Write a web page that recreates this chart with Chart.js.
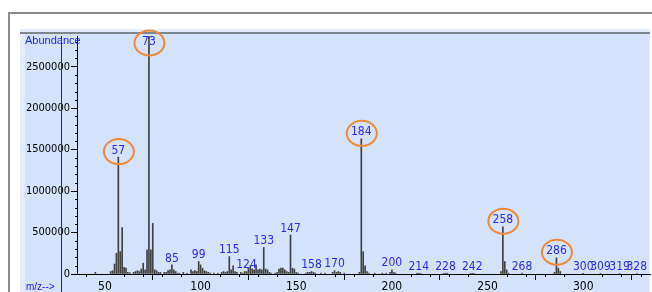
<!DOCTYPE html>
<html>
<head>
<meta charset="utf-8">
<script src="https://cdn.jsdelivr.net/npm/chart.js@4/dist/chart.umd.min.js"></script>
<style>
  html, body { margin: 0; padding: 0; background: #ffffff; }
  #wrap { width: 652px; height: 292px; }
</style>
</head>
<body>
<div id="wrap"><canvas id="myChart" width="652" height="292"></canvas></div>
<script>
// m/z values and abundances
let masas = [45, 53, 54, 55, 56, 57, 58, 59, 60, 61, 62, 63, 65, 66, 67, 68, 69, 70, 71, 72, 73, 74, 75, 76, 77, 78, 79,
  81, 82, 83, 84, 85, 86, 87, 88, 89, 91, 93, 95, 96, 97, 98, 99, 100, 101, 102, 103, 104, 105, 107, 109,
  111, 112, 113, 114, 115, 116, 117, 118, 119, 121, 122, 123, 124, 125, 126, 127, 128, 129, 130, 131, 132, 133, 134, 135, 136, 137, 139,
  140, 141, 142, 143, 144, 145, 146, 147, 148, 149, 150, 151, 155, 156, 157, 158, 159, 160, 163, 165, 169, 170, 171, 172, 173, 175,
  183, 184, 185, 186, 187, 188, 191, 195, 197, 199, 200, 201, 202, 213, 214, 215, 227, 228, 229, 241, 242, 243,
  257, 258, 259, 260, 261, 268, 285, 286, 287, 288, 300, 309, 319, 328];
let abundancia = [20000, 30000, 40000, 120000, 250000, 1410000, 270000, 560000, 80000, 70000, 20000, 15000, 20000, 30000, 40000, 30000, 60000, 130000, 50000, 290000, 2870000, 290000, 610000, 50000, 40000, 20000, 20000,
  20000, 20000, 40000, 50000, 110000, 50000, 30000, 10000, 10000, 20000, 10000, 50000, 30000, 40000, 30000, 150000, 110000, 70000, 40000, 30000, 20000, 10000, 10000, 10000,
  20000, 30000, 20000, 30000, 210000, 50000, 100000, 30000, 20000, 20000, 10000, 30000, 30000, 70000, 100000, 60000, 50000, 110000, 50000, 60000, 50000, 320000, 60000, 50000, 20000, 10000, 10000,
  20000, 60000, 70000, 70000, 50000, 30000, 20000, 470000, 70000, 60000, 20000, 10000, 10000, 20000, 20000, 30000, 20000, 10000, 10000, 10000, 20000, 40000, 20000, 30000, 20000, 10000,
  20000, 1630000, 270000, 100000, 30000, 10000, 10000, 10000, 10000, 20000, 50000, 20000, 10000, 10000, 10000, 5000, 5000, 10000, 10000, 5000, 10000, 5000,
  30000, 570000, 150000, 50000, 10000, 10000, 20000, 196000, 70000, 30000, 8000, 8000, 6000, 6000];

let etiquetas = [57, 73, 85, 99, 115, 124, 133, 147, 158, 170, 184, 200, 214, 228, 242, 258, 268, 286, 300, 309, 319, 328];
let circulos = [57, 73, 184, 258, 286];
let ticksX = [50, 100, 150, 200, 250, 300];
let ticksY = [0, 500000, 1000000, 1500000, 2000000, 2500000];

const azul = "#2a2af2";
const naranjo = "#f0883a";
const fuenteAngosta = "'Liberation Sans Narrow', 'DejaVu Sans Condensed', sans-serif";

const decoracion = {
  id: "decoracion",
  beforeDraw(chart) {
    const ctx = chart.ctx;
    ctx.save();
    ctx.fillStyle = "#ffffff";
    ctx.fillRect(0, 0, 652, 292);
    // marco exterior
    ctx.fillStyle = "#8c8c8c";
    ctx.fillRect(8, 12, 644, 2);
    ctx.fillRect(8, 12, 2, 280);
    // panel celeste
    ctx.fillStyle = "#e2ecfa";
    ctx.fillRect(20, 29, 630, 263);
    ctx.fillStyle = "#d4e3fb";
    ctx.fillRect(25, 32, 624, 260);
    ctx.fillStyle = "#7d8590";
    ctx.fillRect(20, 32, 630, 2);
    ctx.restore();
  },
  afterDraw(chart) {
    const ctx = chart.ctx;
    const x = chart.scales.x;
    const y = chart.scales.y;
    ctx.save();

    // ticks menores
    ctx.strokeStyle = "#000000";
    ctx.lineWidth = 1;
    ctx.beginPath();
    for (let v = 0; v <= y.max; v += 100000) {
      if (v % 500000 === 0) continue;
      let py = Math.round(y.getPixelForValue(v)) + 0.5;
      ctx.moveTo(y.right - 2, py);
      ctx.lineTo(y.right, py);
    }
    for (let v = 40; v <= x.max; v += 10) {
      if (v % 50 === 0) continue;
      let px = Math.round(x.getPixelForValue(v)) + 0.5;
      ctx.moveTo(px, x.top);
      ctx.lineTo(px, x.top + 3);
    }
    ctx.stroke();

    // linea vertical sobre las etiquetas del eje
    ctx.fillStyle = "#333333";
    ctx.fillRect(61, 36, 1, 256);

    // etiquetas de picos
    ctx.font = "12px " + fuenteAngosta;
    ctx.textAlign = "center";
    ctx.textBaseline = "middle";
    for (const m of etiquetas) {
      let i = masas.indexOf(m);
      let px = x.getPixelForValue(m);
      let top = y.getPixelForValue(abundancia[i]);
      let cy = Math.min(top - 6.5, 267);
      cy = Math.max(cy, y.top + 6);
      ctx.fillStyle = azul;
      ctx.fillText(String(m), px, cy);
      if (circulos.includes(m)) {
        ctx.strokeStyle = naranjo;
        ctx.lineWidth = 2;
        ctx.beginPath();
        ctx.ellipse(px + 0.5, cy + 1, 15, 12.5, 0, 0, Math.PI * 2);
        ctx.stroke();
      }
    }

    // textos de ejes
    ctx.fillStyle = "#2020ff";
    ctx.textAlign = "left";
    ctx.font = "11px 'Liberation Sans', Arial, sans-serif";
    ctx.fillText("Abundance", 25, 41);
    ctx.font = "10px 'Liberation Sans', Arial, sans-serif";
    ctx.fillText("m/z-->", 26, 287);
    ctx.restore();
  }
};

let grafico = new Chart(document.getElementById("myChart"), {
  type: "bar",
  data: {
    datasets: [{
      data: masas.map((m, i) => ({ x: m, y: abundancia[i] })),
      backgroundColor: "#404040",
      barThickness: 1,
      borderWidth: 0
    }]
  },
  options: {
    responsive: false,
    animation: false,
    events: [],
    layout: { padding: { left: 0, top: 36, right: 2, bottom: 0 } },
    plugins: { legend: { display: false }, tooltip: { enabled: false } },
    scales: {
      x: {
        type: "linear",
        min: 35.4,
        max: 334.9,
        offset: false,
        afterFit: (s) => { s.height = 18; },
        afterBuildTicks: (s) => { s.ticks = ticksX.map(v => ({ value: v })); },
        grid: { drawOnChartArea: false, tickLength: 6, color: "#000000" },
        border: { color: "#000000", width: 1 },
        ticks: {
          maxRotation: 0,
          autoSkip: false,
          padding: 0,
          color: "#000000",
          font: { family: fuenteAngosta, size: 12 },
          callback: (v) => String(v)
        }
      },
      y: {
        min: 0,
        max: 2870000,
        afterFit: (s) => { s.width = 77; },
        afterBuildTicks: (s) => { s.ticks = ticksY.map(v => ({ value: v })); },
        grid: { drawOnChartArea: false, tickLength: 6, color: "#000000" },
        border: { color: "#000000", width: 1 },
        ticks: {
          padding: 1,
          color: "#000000",
          font: { family: fuenteAngosta, size: 11 },
          callback: (v) => String(v)
        }
      }
    }
  },
  plugins: [decoracion]
});
</script>
</body>
</html>
